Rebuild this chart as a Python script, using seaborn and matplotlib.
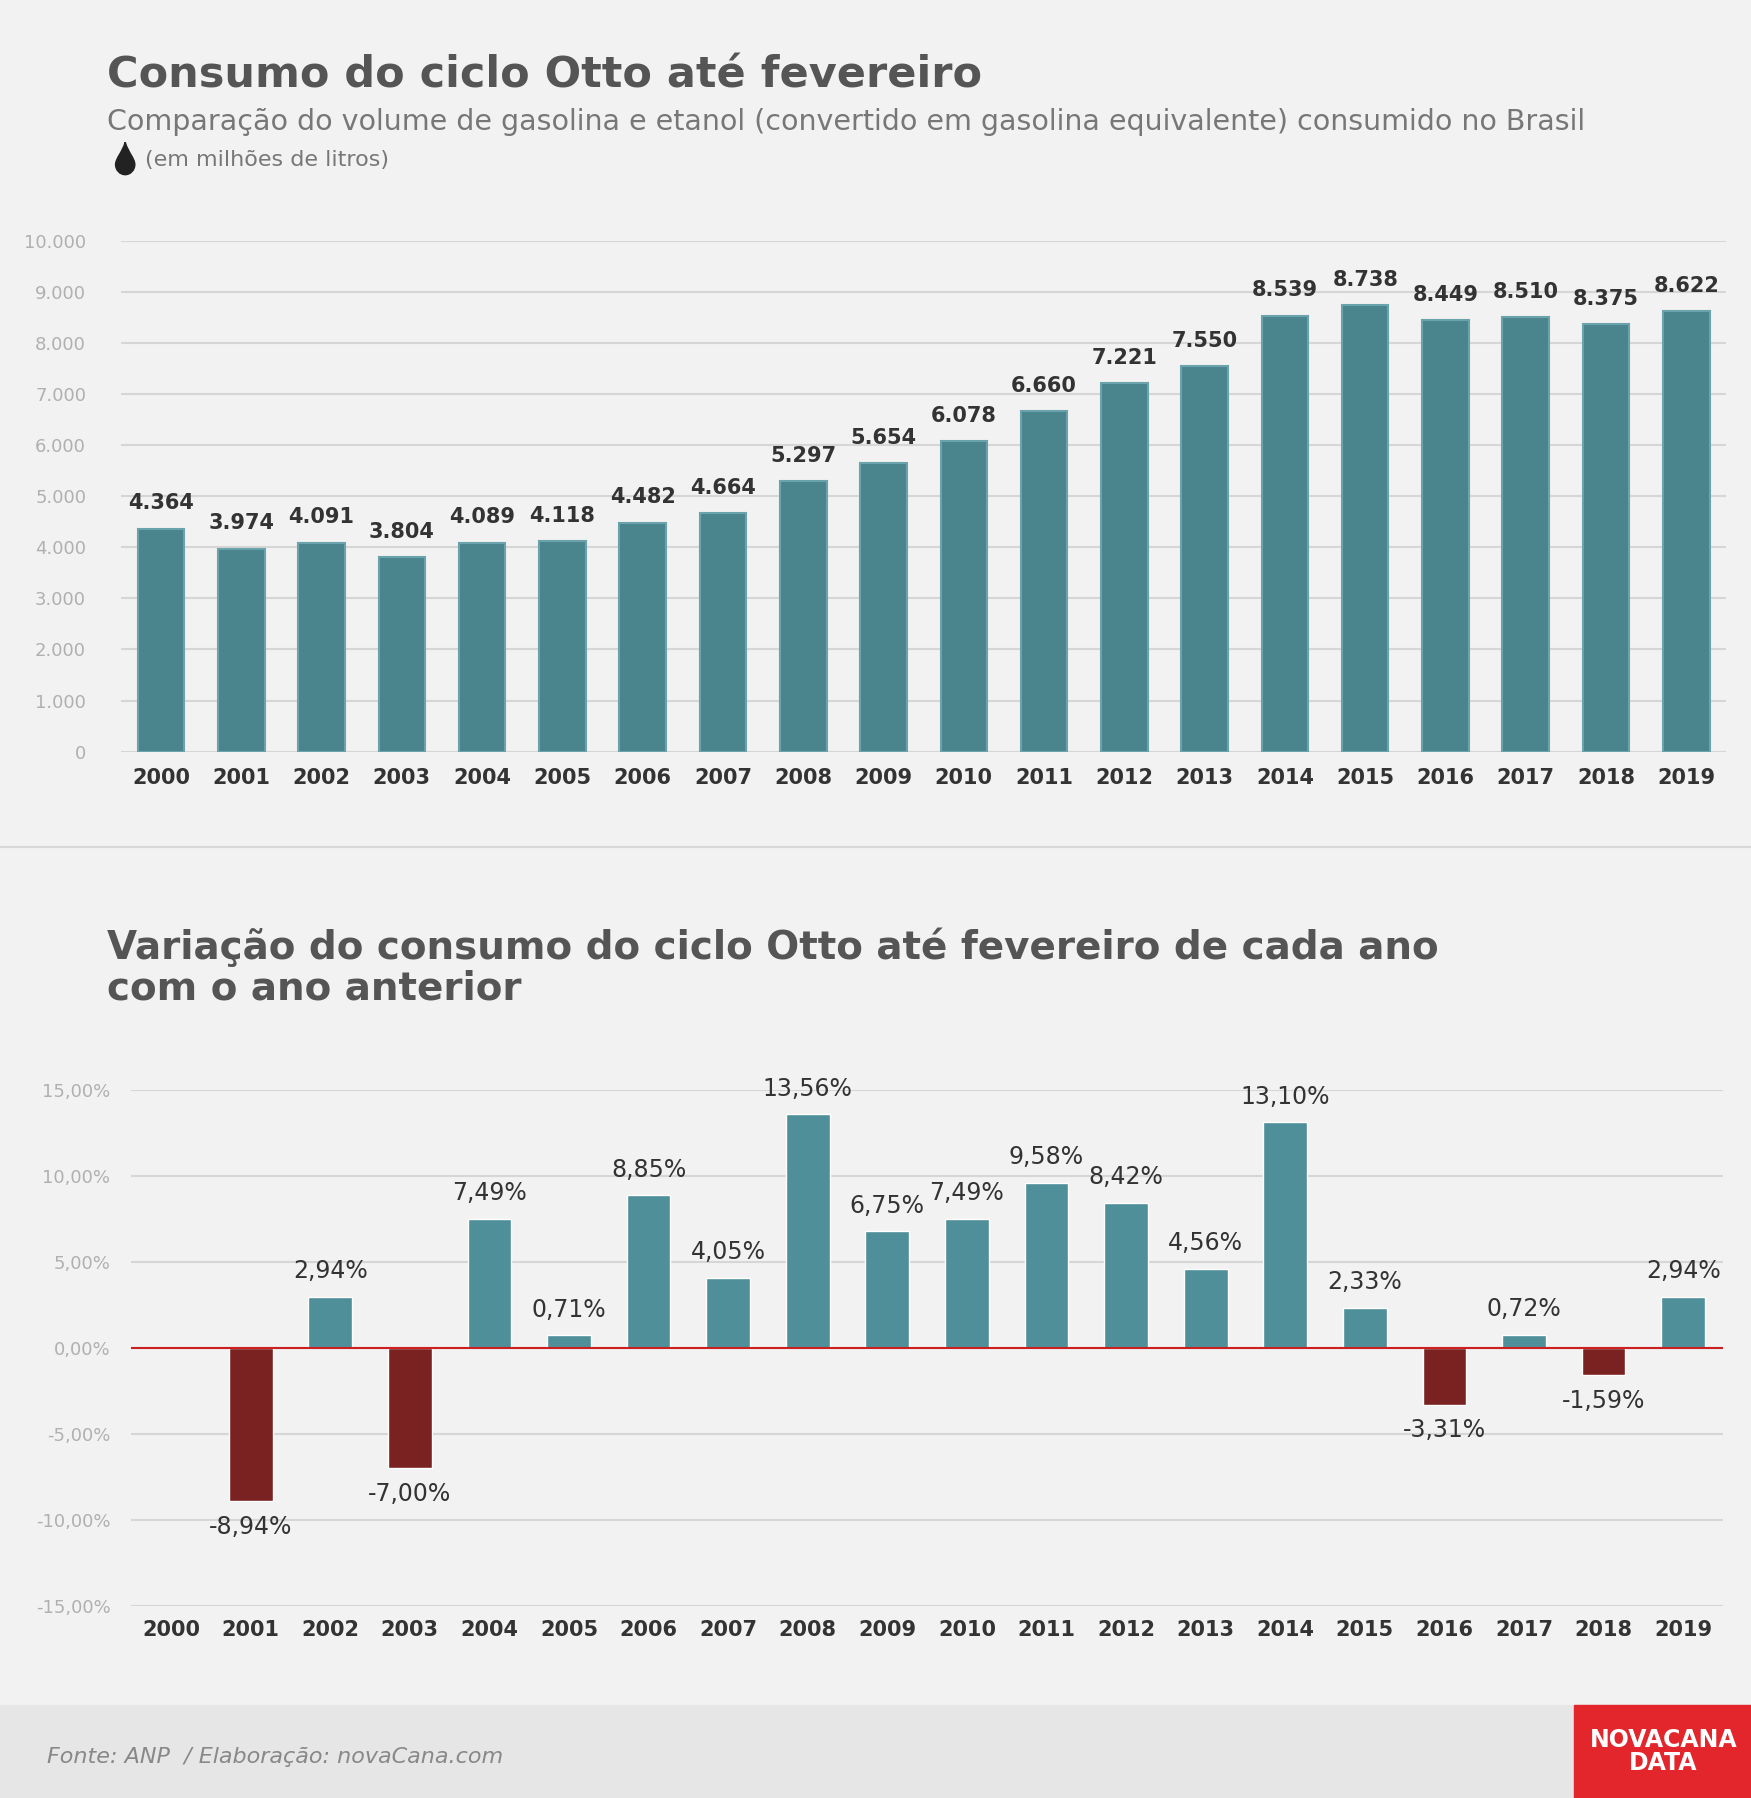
import matplotlib
matplotlib.use("Agg")
import matplotlib.pyplot as plt
import seaborn as sns
import pandas as pd
from matplotlib.patches import Rectangle, PathPatch
from matplotlib.path import Path

years = [str(y) for y in range(2000, 2020)]
consumo = [4364, 3974, 4091, 3804, 4089, 4118, 4482, 4664, 5297, 5654, 6078, 6660, 7221, 7550, 8539, 8738, 8449, 8510, 8375, 8622]
variacao = [None, -8.94, 2.94, -7.00, 7.49, 0.71, 8.85, 4.05, 13.56, 6.75, 7.49, 9.58, 8.42, 4.56, 13.10, 2.33, -3.31, 0.72, -1.59, 2.94]

sns.set_theme(style="white")
plt.rcParams['font.family'] = ['DejaVu Sans']
bg = "#f2f2f2"
fig = plt.figure(figsize=(17.51, 17.98), dpi=100, facecolor=bg)

def fmt_int(v):
    return f"{v:,}".replace(",", ".")

# Top chart
ax1 = fig.add_axes([0.069, 0.582, 0.917, 0.284], facecolor=bg)
df1 = pd.DataFrame({"ano": years, "v": consumo})
sns.barplot(data=df1, x="ano", y="v", color="#4a858e", saturation=1, width=0.58, ax=ax1,
            edgecolor="#6aa3ab", linewidth=1.5)
ax1.set_ylim(0, 10000)
ax1.set_yticks(range(0, 10001, 1000))
ax1.set_yticklabels([fmt_int(v) for v in range(0, 10001, 1000)], color="#b0b0b0", fontsize=13)
ax1.grid(axis="y", color="#d6d6d6", linewidth=1.5)
ax1.set_axisbelow(True)
for i, v in enumerate(consumo):
    ax1.text(i, v + 300, fmt_int(v), ha="center", va="bottom", fontsize=15, fontweight="bold", color="#333333")
ax1.set_xlabel(""); ax1.set_ylabel("")
ax1.tick_params(axis="x", labelsize=15, colors="#333333", length=0, pad=12)
ax1.tick_params(axis="y", length=0, pad=25)
for lbl in ax1.get_xticklabels(): lbl.set_fontweight("bold")
for s in ax1.spines.values(): s.set_visible(False)
ax1.set_xlim(-0.5, 19.5)

# Bottom chart
ax2 = fig.add_axes([0.075, 0.107, 0.909, 0.287], facecolor=bg)
vals = [0 if v is None else v for v in variacao]
cols = ["#4e8f99" if v >= 0 else "#7a2222" for v in vals]
df2 = pd.DataFrame({"ano": years, "v": vals})
sns.barplot(data=df2, x="ano", y="v", hue="ano", palette=cols, legend=False, saturation=1, width=0.55, ax=ax2)
ax2.set_ylim(-15, 15)
ticks = [-15, -10, -5, 0, 5, 10, 15]
ax2.set_yticks(ticks)
ax2.set_yticklabels([f"{t:.2f}%".replace(".", ",") for t in ticks], color="#b0b0b0", fontsize=13)
ax2.grid(axis="y", color="#d6d6d6", linewidth=1.5)
ax2.set_axisbelow(True)
ax2.axhline(0, color="#cc1f1f", linewidth=1.5)
for i, v in enumerate(variacao):
    if v is None: continue
    t = f"{v:.2f}%".replace(".", ",")
    if v >= 0:
        ax2.text(i, v + 0.8, t, ha="center", va="bottom", fontsize=17, color="#333333")
    else:
        ax2.text(i, v - 0.8, t, ha="center", va="top", fontsize=17, color="#333333")
ax2.set_xlabel(""); ax2.set_ylabel("")
ax2.tick_params(axis="x", labelsize=15, colors="#333333", length=0, pad=10)
ax2.tick_params(axis="y", length=0, pad=15)
for lbl in ax2.get_xticklabels(): lbl.set_fontweight("bold")
for s in ax2.spines.values(): s.set_visible(False)
ax2.set_xlim(-0.5, 19.5)

# Titles
fig.text(0.061, 0.958, "Consumo do ciclo Otto até fevereiro", fontsize=31, fontweight="bold", color="#555555", va="center")
fig.text(0.061, 0.932, "Comparação do volume de gasolina e etanol (convertido em gasolina equivalente) consumido no Brasil",
         fontsize=20.5, color="#777777", va="center")
# drop icon
cx, cy, r = 0.0715, 0.9085, 0.0055
ar = 17.98 / 17.51
verts = [(cx, cy + 2.2 * r * ar / 1.0),
         (cx + 0.3 * r, cy + 1.2 * r * ar), (cx + r, cy + 0.6 * r * ar), (cx + r, cy),
         (cx + r, cy - 0.55 * r * ar), (cx + 0.55 * r, cy - r * ar), (cx, cy - r * ar),
         (cx - 0.55 * r, cy - r * ar), (cx - r, cy - 0.55 * r * ar), (cx - r, cy),
         (cx - r, cy + 0.6 * r * ar), (cx - 0.3 * r, cy + 1.2 * r * ar), (cx, cy + 2.2 * r * ar)]
codes = [Path.MOVETO] + [Path.CURVE4] * 12
fig.add_artist(PathPatch(Path(verts, codes), transform=fig.transFigure, color="#222222"))
fig.text(0.083, 0.911, "(em milhões de litros)", fontsize=16, color="#777777", va="center")
fig.add_artist(plt.Line2D([0, 1], [0.529, 0.529], color="#d8d8d8", linewidth=1.5))
fig.text(0.061, 0.462, "Variação do consumo do ciclo Otto até fevereiro de cada ano\ncom o ano anterior",
         fontsize=28, fontweight="bold", color="#555555", va="center", linespacing=1.1)

# Footer
fig.add_artist(Rectangle((0, 0), 1, 0.052, transform=fig.transFigure, color="#e6e6e6", zorder=0))
fig.text(0.027, 0.023, "Fonte: ANP  / Elaboração: novaCana.com", fontsize=16, style="italic", color="#888888", va="center")
fig.add_artist(Rectangle((0.899, 0), 0.101, 0.052, transform=fig.transFigure, color="#e3262b", zorder=1))
fig.text(0.95, 0.026, "NOVACANA\nDATA", fontsize=17, fontweight="bold", color="white", ha="center", va="center",
         linespacing=0.95, zorder=2)

fig.savefig("out.png", dpi=100, facecolor=bg)
